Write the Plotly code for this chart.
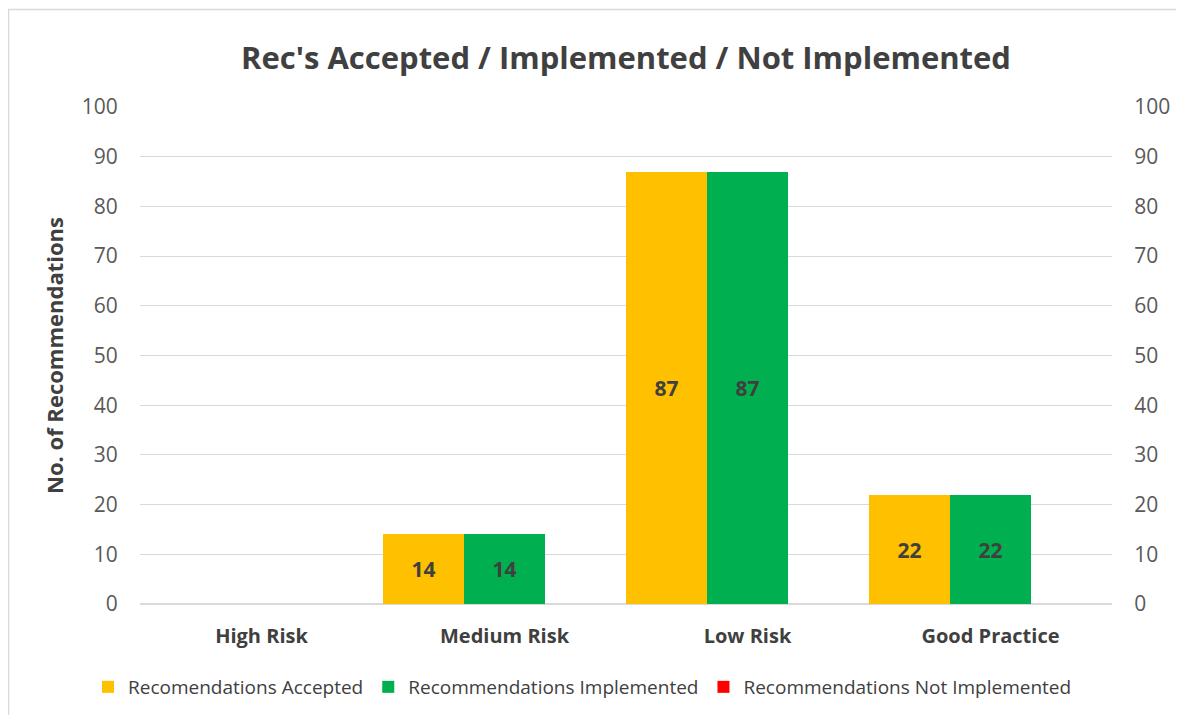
import plotly.graph_objects as go

categories = ["High Risk", "Medium Risk", "Low Risk", "Good Practice"]
accepted = [0, 14, 87, 22]
implemented = [0, 14, 87, 22]
not_implemented = [0, 0, 0, 0]
series_names = ["Recomendations Accepted", "Recommendations Implemented", "Recommendations Not Implemented"]
colors = ["#FFC000", "#00B050", "#FF0000"]
y_ticks = list(range(0, 101, 10))

FONT = "Open Sans"
# page body has an 8px margin, so figure coordinates = page coordinates - 8
OFF = 8
W, H = 1184 - OFF, 715 - OFF
L, R, T, B = 140 - OFF, 72, 107 - OFF, 111

fig = go.Figure()
for name, vals, col in zip(series_names, [accepted, implemented, not_implemented], colors):
    fig.add_trace(go.Bar(
        x=categories, y=vals, name=name,
        marker=dict(color=col, line=dict(width=0)),
        text=[str(v) if v else "" for v in vals],
        textposition="inside", insidetextanchor="middle",
        textfont=dict(family=FONT, size=21, color="#404040", weight="bold"),
        textangle=0,
    ))

# invisible helper so the secondary (right) axis is drawn
fig.add_trace(go.Scatter(x=categories, y=[None] * len(categories), yaxis="y2",
                         mode="markers", showlegend=False, hoverinfo="skip"))

pw = W - L - R
ph = H - T - B
def px_x(p):
    return (p - OFF - L) / pw
def px_y(p):
    return (H - B - (p - OFF)) / ph

fig.add_shape(type="rect", xref="paper", yref="paper",
              x0=px_x(8.5), x1=px_x(1200), y0=px_y(9.5), y1=px_y(730),
              line=dict(color="#D9D9D9", width=1.5), layer="below")

fig.update_layout(
    width=W, height=H,
    margin=dict(l=L, r=R, t=T, b=B, autoexpand=False),
    paper_bgcolor="white", plot_bgcolor="white",
    barmode="group", bargap=0, bargroupgap=0,
    font=dict(family=FONT, color="#595959"),
    title=dict(text="<b>Rec's Accepted / Implemented / Not Implemented</b>",
               x=0.5, xref="paper", xanchor="center",
               y=1 - (58 - OFF) / H, yref="container", yanchor="middle",
               font=dict(family=FONT, size=31, color="#404040")),
    xaxis=dict(showgrid=False, showline=False, ticks="outside", ticklen=14,
               tickcolor="rgba(0,0,0,0)",
               tickfont=dict(family=FONT, size=20, color="#404040", weight="bold")),
    yaxis=dict(range=[0, 100], tickvals=y_ticks, showgrid=True, gridcolor="#D9D9D9",
               gridwidth=1.3, zeroline=True, zerolinecolor="#D9D9D9", zerolinewidth=2,
               showline=False, ticks="outside", ticklen=17, tickcolor="rgba(0,0,0,0)",
               tickfont=dict(family=FONT, size=21, color="#595959"),
               title=dict(text="<b>No. of Recommendations</b>", standoff=12,
                          font=dict(family=FONT, size=22, color="#404040"))),
    yaxis2=dict(range=[0, 100], tickvals=y_ticks, overlaying="y", side="right",
                showgrid=False, zeroline=False, showline=False, ticks="outside",
                ticklen=17, tickcolor="rgba(0,0,0,0)",
                tickfont=dict(family=FONT, size=21, color="#595959")),
    legend=dict(orientation="h", x=px_x(88), xref="paper", xanchor="left",
                y=px_y(687), yref="paper", yanchor="middle",
                font=dict(family=FONT, size=19, color="#404040"),
                itemsizing="constant", itemwidth=30, traceorder="normal"),
    showlegend=True,
)

fig.write_html("out.html")
